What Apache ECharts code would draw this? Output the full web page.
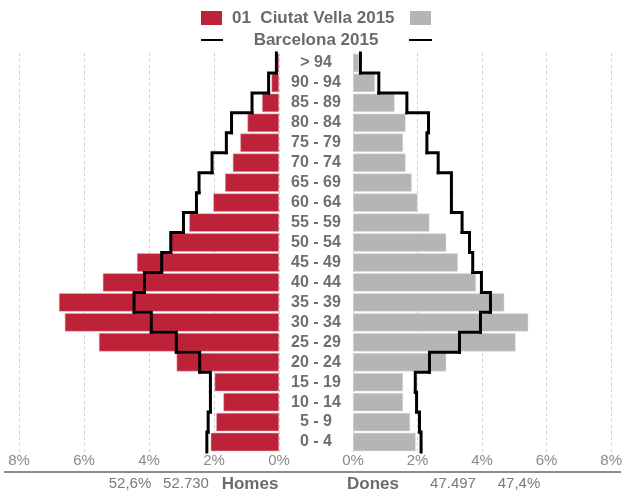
<!DOCTYPE html>
<html>
<head>
<meta charset="utf-8">
<script src="https://cdn.jsdelivr.net/npm/echarts@6/dist/echarts.min.js"></script>
<style>
  html, body { margin: 0; padding: 0; background: #fff; }
  #chart { width: 625px; height: 493px; }
</style>
</head>
<body>
<div id="chart"></div>
<script>
// grups d'edat, de baix a dalt
var ageGroups = ['0 - 4', '5 - 9', '10 - 14', '15 - 19', '20 - 24', '25 - 29', '30 - 34', '35 - 39',
  '40 - 44', '45 - 49', '50 - 54', '55 - 59', '60 - 64', '65 - 69', '70 - 74', '75 - 79',
  '80 - 84', '85 - 89', '90 - 94', '> 94']

// % de la poblacio - Ciutat Vella 2015
var menDistrict = [2.10, 1.93, 1.71, 1.98, 3.15, 5.54, 6.59, 6.77, 5.42, 4.37, 3.36, 2.76, 2.02, 1.66, 1.42, 1.19, 0.97, 0.52, 0.23, 0.06]
var womenDistrict = [1.94, 1.77, 1.55, 1.55, 2.89, 5.04, 5.43, 4.69, 3.81, 3.25, 2.89, 2.37, 2.00, 1.82, 1.63, 1.55, 1.63, 1.29, 0.68, 0.18]

// % de la poblacio - Barcelona 2015 (linia)
var menCity = [2.22, 2.18, 2.11, 2.11, 2.44, 3.16, 3.93, 4.46, 4.14, 3.61, 3.33, 2.94, 2.54, 2.46, 2.06, 1.62, 1.46, 0.83, 0.32, 0.08]
var womenCity = [2.11, 2.06, 1.97, 1.93, 2.37, 3.30, 3.95, 4.26, 3.98, 3.71, 3.61, 3.38, 3.05, 3.05, 2.64, 2.29, 2.34, 1.67, 0.80, 0.23]

var xTicks = [0, 2, 4, 6, 8]

var menShare = '52,6%'
var menCount = '52.730'
var womenCount = '47.497'
var womenShare = '47,4%'

var RED = '#be2238'
var GREY = '#b5b5b4'
var FONT = 'Liberation Sans, Arial, sans-serif'

var myChart = echarts.init(document.getElementById('chart'))

// linia esglaonada: un tram vertical per grup + l'enllac amb el seguent
function stepData(arr) {
  return arr.map(function (v, i) {
    return [v, i, i < arr.length - 1 ? arr[i + 1] : -1]
  })
}
function renderStep(params, api) {
  var v = api.value(0)
  var cat = api.value(1)
  var next = api.value(2)
  var p = api.coord([v, cat])
  var h = api.size([0, 1])[1]
  var top = p[1] - h / 2
  var bot = p[1] + h / 2
  var pts = [[p[0], bot], [p[0], top]]
  if (next >= 0) {
    var q = api.coord([next, cat + 1])
    pts.push([q[0], top])
  }
  return {
    type: 'polyline',
    shape: { points: pts },
    style: { stroke: '#000', lineWidth: 3, fill: null, lineCap: 'square', lineJoin: 'miter' }
  }
}

function valueAxis(gridIndex, inverse) {
  return {
    type: 'value',
    gridIndex: gridIndex,
    inverse: inverse,
    min: xTicks[0],
    max: xTicks[xTicks.length - 1],
    interval: 2,
    axisLine: { show: false },
    axisTick: { show: false },
    axisLabel: {
      formatter: '{value}%',
      color: '#8a8a8a',
      fontSize: 15,
      fontFamily: FONT,
      margin: 1,
      showMinLabel: true,
      showMaxLabel: true
    },
    splitLine: { show: true, lineStyle: { color: '#cfcfcf', type: [3, 3], width: 1 } }
  }
}

var option = {
  animation: false,
  grid: [
    { left: 19, right: 346, top: 53, bottom: 41 },
    { left: 353, right: 11, top: 53, bottom: 41 }
  ],
  xAxis: [valueAxis(0, true), valueAxis(1, false)],
  yAxis: [
    {
      type: 'category',
      gridIndex: 0,
      data: ageGroups,
      position: 'right',
      axisLine: { show: false },
      axisTick: { show: false },
      axisLabel: {
        interval: 0,
        margin: 37,
        align: 'center',
        color: '#6e6e6e',
        fontWeight: 'bold',
        fontSize: 16,
        fontFamily: FONT
      }
    },
    {
      type: 'category',
      gridIndex: 1,
      data: ageGroups,
      axisLine: { show: false },
      axisTick: { show: false },
      axisLabel: { show: false }
    }
  ],
  series: [
    {
      name: 'Homes',
      type: 'bar',
      xAxisIndex: 0,
      yAxisIndex: 0,
      barCategoryGap: '8%',
      itemStyle: { color: RED, borderColor: '#e6b3bb', borderWidth: 0.5 },
      data: menDistrict
    },
    {
      name: 'Dones',
      type: 'bar',
      xAxisIndex: 1,
      yAxisIndex: 1,
      barCategoryGap: '8%',
      itemStyle: { color: GREY, borderColor: '#e2e2e2', borderWidth: 0.5 },
      data: womenDistrict
    },
    {
      name: 'Barcelona 2015 H',
      type: 'custom',
      xAxisIndex: 0,
      yAxisIndex: 0,
      z: 5,
      renderItem: renderStep,
      encode: { x: 0, y: 1 },
      data: stepData(menCity)
    },
    {
      name: 'Barcelona 2015 D',
      type: 'custom',
      xAxisIndex: 1,
      yAxisIndex: 1,
      z: 5,
      renderItem: renderStep,
      encode: { x: 0, y: 1 },
      data: stepData(womenCity)
    }
  ],
  graphic: [
    // llegenda
    { type: 'rect', left: 201, top: 11, shape: { width: 21, height: 14 }, style: { fill: RED } },
    {
      type: 'text', x: 232, y: 18,
      style: { text: '01  Ciutat Vella 2015', fill: '#6b6b6b', font: 'bold 17px ' + FONT, textVerticalAlign: 'middle' }
    },
    { type: 'rect', left: 410, top: 11, shape: { width: 21, height: 14 }, style: { fill: GREY } },
    { type: 'line', shape: { x1: 201, y1: 40, x2: 223, y2: 40 }, style: { stroke: '#000', lineWidth: 2 } },
    {
      type: 'text', x: 316, y: 40,
      style: { text: 'Barcelona 2015', fill: '#6b6b6b', font: 'bold 17px ' + FONT, textAlign: 'center', textVerticalAlign: 'middle' }
    },
    { type: 'line', shape: { x1: 409, y1: 40, x2: 432, y2: 40 }, style: { stroke: '#000', lineWidth: 2 } },
    // linia inferior
    { type: 'line', shape: { x1: 4, y1: 472, x2: 621, y2: 472 }, style: { stroke: '#8c8c8c', lineWidth: 2 } },
    // totals
    {
      type: 'text', x: 130, y: 484,
      style: { text: menShare, fill: '#7a7a7a', font: '15px ' + FONT, textAlign: 'center', textVerticalAlign: 'middle' }
    },
    {
      type: 'text', x: 186, y: 484,
      style: { text: menCount, fill: '#7a7a7a', font: '15px ' + FONT, textAlign: 'center', textVerticalAlign: 'middle' }
    },
    {
      type: 'text', x: 250, y: 484,
      style: { text: 'Homes', fill: '#6b6b6b', font: 'bold 17px ' + FONT, textAlign: 'center', textVerticalAlign: 'middle' }
    },
    {
      type: 'text', x: 373, y: 484,
      style: { text: 'Dones', fill: '#6b6b6b', font: 'bold 17px ' + FONT, textAlign: 'center', textVerticalAlign: 'middle' }
    },
    {
      type: 'text', x: 453, y: 484,
      style: { text: womenCount, fill: '#7a7a7a', font: '15px ' + FONT, textAlign: 'center', textVerticalAlign: 'middle' }
    },
    {
      type: 'text', x: 519, y: 484,
      style: { text: womenShare, fill: '#7a7a7a', font: '15px ' + FONT, textAlign: 'center', textVerticalAlign: 'middle' }
    }
  ]
}

myChart.setOption(option)
</script>
</body>
</html>
